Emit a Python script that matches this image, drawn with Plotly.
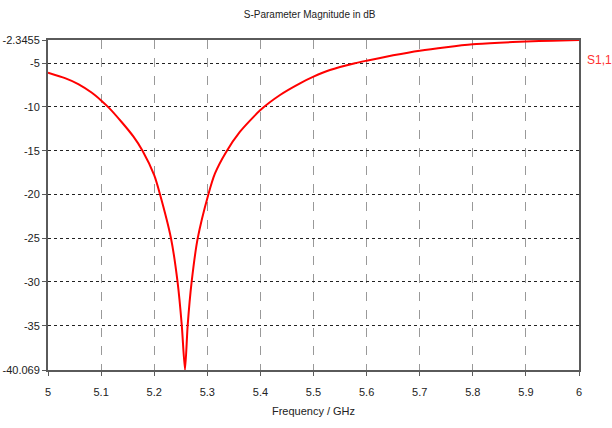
import plotly.graph_objects as go

# Frequency (GHz) and S1,1 magnitude (dB)
freq = [5.000, 5.032, 5.057, 5.082, 5.100, 5.114, 5.139, 5.161, 5.178, 5.200,
        5.211, 5.2316, 5.244, 5.252, 5.258, 5.263, 5.2705, 5.282, 5.302, 5.3145,
        5.335, 5.3616, 5.400, 5.437, 5.4746, 5.500, 5.531, 5.578, 5.600,
        5.650, 5.700, 5.750, 5.800, 5.850, 5.900, 5.950, 6.000]
s11 = [-6.08, -6.70, -7.38, -8.35, -9.25, -10.05, -11.75, -13.4, -15.0, -17.8,
       -20.0, -25.0, -30.0, -35.0, -40.069, -35.0, -30.0, -25.0, -20.0, -17.6,
       -15.2, -12.83, -10.35, -8.63, -7.3, -6.54, -5.78, -5.0, -4.71,
       -4.1, -3.57, -3.17, -2.84, -2.66, -2.52, -2.42, -2.3455]

x_ticks = [5, 5.1, 5.2, 5.3, 5.4, 5.5, 5.6, 5.7, 5.8, 5.9, 6]
x_tick_text = ["5", "5.1", "5.2", "5.3", "5.4", "5.5", "5.6", "5.7", "5.8", "5.9", "6"]
y_ticks = [-2.3455, -5, -10, -15, -20, -25, -30, -35, -40.069]
y_tick_text = ["-2.3455", "-5", "-10", "-15", "-20", "-25", "-30", "-35", "-40.069"]

FONT = "Liberation Sans Narrow, Liberation Sans, Arial, sans-serif"

fig = go.Figure()
fig.add_trace(go.Scatter(x=freq, y=s11, mode="lines",
                         line=dict(color="#ff0000", width=2, shape="spline",
                                   smoothing=0.6),
                         name="S1,1", showlegend=False))

fig.update_layout(
    width=612, height=428,
    margin=dict(l=48, r=33, t=40, b=58, autoexpand=False),
    paper_bgcolor="white", plot_bgcolor="white",
    font=dict(family=FONT, size=11, color="#222222"),
    title=dict(text="S-Parameter Magnitude in dB", x=0.506, xanchor="center",
               y=1 - 14 / 428, yanchor="middle",
               font=dict(size=10, color="#222222")),
    xaxis=dict(range=[5, 6], tickvals=x_ticks, ticktext=x_tick_text,
               showgrid=True, gridcolor="#999999", griddash="dash", gridwidth=1,
               showline=True, linecolor="#5a5a5a", linewidth=2, mirror=True,
               ticks="outside", ticklen=4, tickcolor="#5a5a5a",
               ticklabelstandoff=7, automargin=False,
               zeroline=False,
               title=dict(text="Frequency / GHz", standoff=10,
                          font=dict(size=11))),
    yaxis=dict(range=[-40.069, -2.3455], tickvals=y_ticks, ticktext=y_tick_text,
               showgrid=True, gridcolor="#222222", griddash="dot", gridwidth=1,
               showline=True, linecolor="#5a5a5a", linewidth=2, mirror=True,
               ticks="outside", ticklen=4, tickcolor="#5a5a5a",
               automargin=False, zeroline=False),
)

fig.add_annotation(text="S1,1", xref="paper", yref="paper", x=1.0, y=0.94,
                   xanchor="left", yanchor="middle", xshift=6, showarrow=False,
                   font=dict(color="#ff3030", size=12, family=FONT))

fig.write_html("out.html",
               config={"displayModeBar": False},
               post_script="document.body.style.margin='0';document.body.style.padding='0';")
